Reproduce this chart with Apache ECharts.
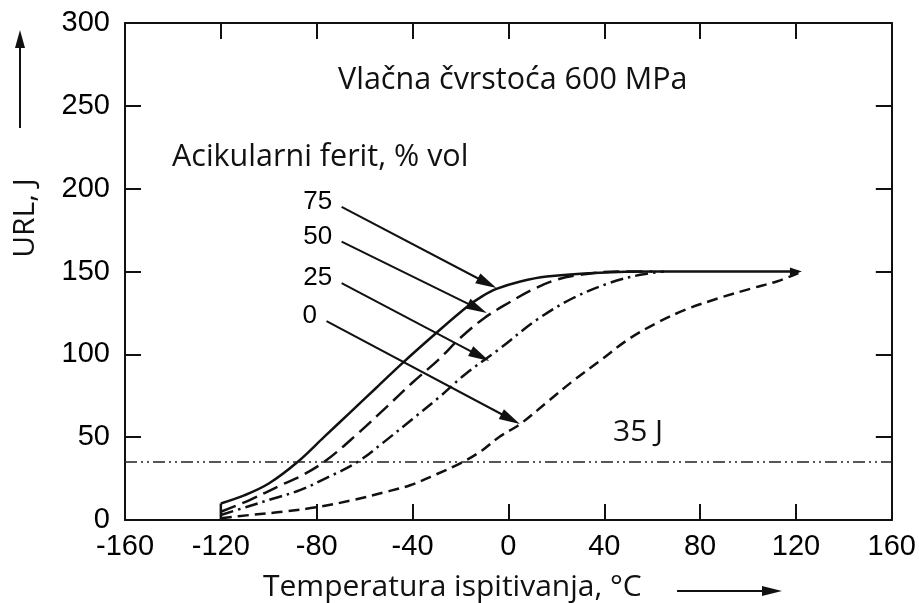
<!DOCTYPE html>
<html><head><meta charset="utf-8">
<script src="https://cdn.jsdelivr.net/npm/echarts@6/dist/echarts.min.js"></script>
<style>html,body{margin:0;padding:0;background:#fff}#c{width:919px;height:603px}</style>
</head><body><div id="c"></div>
<script>
// ---- data (temperature °C, energy J) ----
const ferrite75 = [[-120,10],[-110,15],[-100,22],[-88,35],[-77,50],[-66,65],[-55,80],[-44,95],[-30,113],[-17,129],[-11,135],[-5,139.5],[5,144],[16,147],[38,149.3],[60,150],[121,150]];
const ferrite50 = [[-120,5],[-108,12],[-95,21],[-86,27],[-76,36],[-63,52],[-51,68],[-40,83],[-29,97],[-20,110],[-10,122],[0,131],[10,139],[20,145],[30,148],[45,150],[60,150]];
const ferrite25 = [[-120,3],[-109,8],[-98,13],[-87,18],[-75,26],[-63,35],[-52,47],[-40,61],[-29,74],[-18,88],[-4,103],[12,121],[27,134],[42,143],[55,148],[65,150]];
const ferrite0  = [[-120,1],[-108,3],[-94,5],[-79,8],[-65,12],[-51,17],[-41,21],[-31,27],[-19,35],[-11,42],[-4,50],[5,58],[16,71],[27,84],[39,97],[50,109],[62,119],[74,127],[88,134],[102,140],[112,144],[121,149]];
const startTick = [[-120,0],[-120,10]];
const energyLimit = 35;
const xRange = [-160,160];
const arrowFrom = [[-69.6,189],[-69.6,168],[-69.6,143],[-75.9,120]];
const arrowTo   = [[-5,140],[-9,125],[-8,96],[4.8,58]];
const arrowLabels = ['75','50','25','0'];
const curveEnd = [120,150];

const chart = echarts.init(document.getElementById('c'));
const black = '#111';
const tickFont = {fontFamily:'Liberation Sans', fontSize:29, color:'#000'};
const lbl = 'Open Sans';

function axisBase(extra){
  return Object.assign({
    type:'value',
    axisLine:{show:true,onZero:false,lineStyle:{color:black,width:2}},
    axisTick:{show:true,inside:true,length:16,lineStyle:{color:black,width:2}},
    splitLine:{show:false}
  }, extra);
}

function renderArrow(params, api){
  const p0 = api.coord([api.value(0), api.value(1)]);
  const p1 = api.coord([api.value(2), api.value(3)]);
  const dx = p1[0]-p0[0], dy = p1[1]-p0[1];
  const len = Math.sqrt(dx*dx+dy*dy);
  const ux = dx/len, uy = dy/len;
  const hl = 21, hw = 5.5;
  const bx = p1[0]-ux*hl, by = p1[1]-uy*hl;
  return {type:'group',children:[
    {type:'line',shape:{x1:p0[0],y1:p0[1],x2:bx+ux*2,y2:by+uy*2},style:{stroke:black,lineWidth:2}},
    {type:'polygon',shape:{points:[[p1[0],p1[1]],[bx-uy*hw,by+ux*hw],[bx+uy*hw,by-ux*hw]]},style:{fill:black}}
  ]};
}

chart.setOption({
  animation:false,
  backgroundColor:'#fff',
  grid:{left:125,right:27,top:23,bottom:83},
  xAxis:[
    axisBase({min:-160,max:160,interval:40,position:'bottom',axisLabel:Object.assign({margin:12},tickFont)}),
    axisBase({min:-160,max:160,interval:40,position:'top',axisLabel:{show:false}})
  ],
  yAxis:[
    axisBase({min:0,max:300,interval:50,position:'left',axisLabel:Object.assign({margin:15,padding:[8,0,0,0]},tickFont)}),
    axisBase({min:0,max:300,interval:50,position:'right',axisLabel:{show:false}})
  ],
  series:[
    {type:'line',data:ferrite75,smooth:0.35,showSymbol:false,lineStyle:{color:black,width:2.5},
     markPoint:{symbol:'path://M0,-5 L10,0 L0,5 Z',symbolSize:[12,8],data:[{coord:curveEnd}],label:{show:false},itemStyle:{color:black}}},
    {type:'line',data:startTick,showSymbol:false,lineStyle:{color:black,width:2.5}},
    {type:'line',data:ferrite50,smooth:0.35,showSymbol:false,lineStyle:{color:black,width:2.5,type:[16,7]}},
    {type:'line',data:ferrite25,smooth:0.35,showSymbol:false,lineStyle:{color:black,width:2.5,type:[13,5,2.5,5]}},
    {type:'line',data:ferrite0,smooth:0.35,showSymbol:false,lineStyle:{color:black,width:2.5,type:[11,6]}},
    {type:'line',data:[[xRange[0],energyLimit],[xRange[1],energyLimit]],showSymbol:false,
     lineStyle:{color:'#222',width:1.5,type:[12,4,2,4,2,4]}},
    {type:'custom',renderItem:renderArrow,data:arrowFrom.map((p,i)=>p.concat(arrowTo[i])),silent:true},
    {type:'scatter',data:arrowFrom.map((p,i)=>({value:p,name:arrowLabels[i]})),symbolSize:1,
     itemStyle:{color:'transparent',opacity:1},
     label:{show:true,position:'left',distance:9,offset:[0,-5],formatter:p=>p.name,
       fontFamily:'Liberation Sans',fontSize:26,color:'#000',opacity:1}}
  ],
  graphic:[
    {type:'text',x:338,y:80,style:{text:'Vlačna čvrstoća 600 MPa',fontFamily:lbl,fontSize:30.5,fill:black,verticalAlign:'middle'}},
    {type:'text',x:172,y:157,style:{text:'Acikularni ferit, % vol',fontFamily:lbl,fontSize:30.5,fill:black,verticalAlign:'middle'}},
    {type:'text',x:613,y:432,style:{text:'35 J',fontFamily:lbl,fontSize:30,fill:black,verticalAlign:'middle'}},
    {type:'text',x:25,y:218,rotation:Math.PI/2,style:{text:'URL, J',fontFamily:lbl,fontSize:30,fill:black,align:'center',verticalAlign:'middle'}},
    {type:'text',x:263,y:587,style:{text:'Temperatura ispitivanja, °C',fontFamily:lbl,fontSize:30,fill:black,verticalAlign:'middle'}},
    {type:'line',shape:{x1:20,y1:128,x2:20,y2:42},style:{stroke:black,lineWidth:2}},
    {type:'polygon',shape:{points:[[20,30],[15,48],[25,48]]},style:{fill:black}},
    {type:'line',shape:{x1:677,y1:591,x2:766,y2:591},style:{stroke:black,lineWidth:2}},
    {type:'polygon',shape:{points:[[782,591],[762,586],[762,596]]},style:{fill:black}}
  ]
});
</script></body></html>
